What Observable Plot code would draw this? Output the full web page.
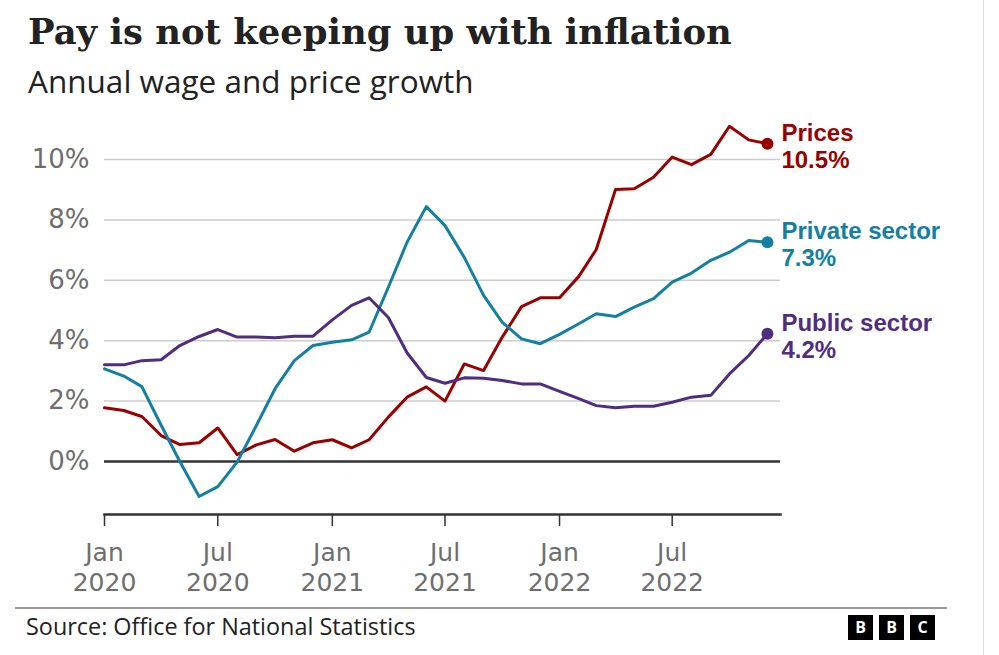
<!DOCTYPE html>
<html>
<head>
<meta charset="utf-8">
<script src="https://cdn.jsdelivr.net/npm/d3@7"></script>
<script src="https://cdn.jsdelivr.net/npm/@observablehq/plot@0.6"></script>
<style>
  html, body { margin: 0; padding: 0; background: #fff; }
  #page { position: relative; width: 999px; height: 655px; overflow: hidden; background: #fff; }
  #title { position: absolute; left: 28px; top: 11px; font-family: "DejaVu Serif", serif; font-weight: bold; font-size: 35.4px; color: #222; white-space: nowrap; }
  #subtitle { position: absolute; left: 28px; top: 59px; font-family: "Open Sans", sans-serif; font-size: 31.5px; color: #222; white-space: nowrap; }
  #chart { position: absolute; left: 0; top: 100px; }
  #rule { position: absolute; left: 15px; top: 607px; width: 932px; height: 0; border-top: 2px solid #9a9a9a; }
  #source { position: absolute; left: 26px; top: 610px; font-family: "Open Sans", sans-serif; font-size: 23.4px; color: #222; white-space: nowrap; }
  #bbc { position: absolute; left: 848px; top: 615px; display: flex; gap: 6px; }
  #bbc span { width: 25px; height: 25px; background: #000; color: #fff; font-family: "Open Sans", sans-serif; font-weight: bold; font-size: 16px; line-height: 25px; text-align: center; }
  #border { position: absolute; left: 983px; top: 0; width: 1px; height: 655px; background: #ddd; }
</style>
</head>
<body>
<div id="page">
  <div id="title">Pay is not keeping up with inflation</div>
  <div id="subtitle">Annual wage and price growth</div>
  <div id="chart"></div>
  <div id="rule"></div>
  <div id="source">Source: Office for National Statistics</div>
  <div id="bbc"><span>B</span><span>B</span><span>C</span></div>
  <div id="border"></div>
</div>
<script>
// Monthly data, Jan 2020 – Dec 2022
const startMonth = "2020-01";
const prices = [1.78, 1.69, 1.49, 0.86, 0.56, 0.62, 1.11, 0.23, 0.55, 0.73, 0.34, 0.62,
                0.72, 0.45, 0.72, 1.47, 2.13, 2.47, 2.00, 3.23, 3.01, 4.12, 5.13, 5.42,
                5.42, 6.13, 7.02, 9.01, 9.03, 9.41, 10.08, 9.83, 10.17, 11.10, 10.65, 10.52];
const privateSector = [3.07, 2.83, 2.48, 1.20, 0.00, -1.16, -0.83, -0.02, 1.19, 2.41, 3.34, 3.84,
                3.95, 4.03, 4.28, 5.77, 7.26, 8.44, 7.81, 6.76, 5.50, 4.61, 4.06, 3.90,
                4.21, 4.56, 4.89, 4.80, 5.11, 5.39, 5.94, 6.24, 6.66, 6.93, 7.32, 7.26];
const publicSector = [3.20, 3.20, 3.34, 3.37, 3.84, 4.14, 4.37, 4.12, 4.12, 4.10, 4.15, 4.15,
                4.69, 5.17, 5.42, 4.77, 3.60, 2.78, 2.59, 2.77, 2.76, 2.68, 2.57, 2.57,
                2.32, 2.08, 1.85, 1.78, 1.83, 1.83, 1.96, 2.13, 2.19, 2.90, 3.51, 4.23];
const seriesNames = ["Prices", "Private sector", "Public sector"];
const seriesColors = ["#990000", "#1380A1", "#4F2D7F"];
const yTicks = [0, 2, 4, 6, 8, 10];
const monthNames = ["Jan","Feb","Mar","Apr","May","Jun","Jul","Aug","Sep","Oct","Nov","Dec"];

const start = new Date(startMonth + "-01T00:00:00Z");
const dates = prices.map((_, i) => d3.utcMonth.offset(start, i));
const allSeries = [prices, privateSector, publicSector];
const rows = [];
allSeries.forEach((vals, s) => vals.forEach((v, i) => rows.push({date: dates[i], value: v, series: seriesNames[s]})));
const last = allSeries.map((vals, s) => ({
  date: dates[vals.length - 1], value: vals[vals.length - 1], series: seriesNames[s],
  label: seriesNames[s] + "\n" + vals[vals.length - 1].toFixed(1) + "%"
}));
const xTicks = dates.filter(d => d.getUTCMonth() === 0 || d.getUTCMonth() === 6);

const W = 999, H = 500;
const marginTop = 13.7, marginBottom = H - 414;
const yMax = 11.5, yMin = -1.755;

const chart = Plot.plot({
  width: W, height: H,
  marginLeft: 104, marginRight: 219, marginTop, marginBottom,
  style: {fontFamily: "Open Sans, sans-serif", background: "transparent", overflow: "visible"},
  x: {type: "utc", domain: [start, new Date("2022-12-22T00:00:00Z")]},
  y: {domain: [yMin, yMax]},
  color: {domain: seriesNames, range: seriesColors},
  marks: [
    Plot.gridY([2, 4, 6, 8, 10], {stroke: "#cccccc", strokeOpacity: 1, strokeWidth: 1.5}),
    Plot.axisY(yTicks, {tickSize: 0, tickPadding: 15, tickFormat: d => d + "%", fontSize: 26,
      fontFamily: "DejaVu Sans, sans-serif", fill: "#6e6e6e", label: null}),
    Plot.ruleY([0], {stroke: "#333", strokeWidth: 2.5}),
    Plot.frame({anchor: "bottom", stroke: "#333", strokeWidth: 2.5}),
    Plot.axisX(xTicks, {tickSize: 12, tickPadding: 13, stroke: "#333", strokeWidth: 1.5,
      tickFormat: d => monthNames[d.getUTCMonth()] + "\n" + d.getUTCFullYear(),
      fontSize: 25, lineHeight: 1.2, fontFamily: "DejaVu Sans, sans-serif", fill: "#6e6e6e", label: null}),
    Plot.line(rows, {x: "date", y: "value", z: "series", stroke: "series", strokeWidth: 3, strokeLinejoin: "round", curve: "linear"}),
    Plot.dot(last, {x: "date", y: "value", fill: "series", r: 6, stroke: null}),
    Plot.text(last, {x: "date", y: "value", text: "label", fill: "series", textAnchor: "start", lineAnchor: "middle",
      dx: 14, dy: 2, fontSize: 24, fontWeight: "bold", lineHeight: 1.12, fontFamily: "Liberation Sans, Arial, sans-serif"})
  ]
});
document.getElementById("chart").appendChild(chart);
</script>
</body>
</html>
